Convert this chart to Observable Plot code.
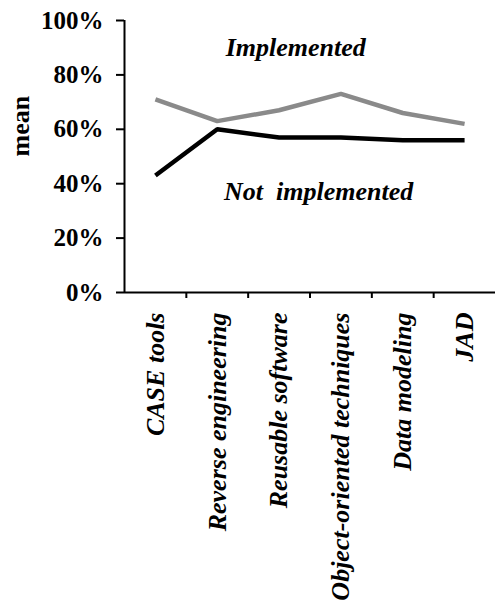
<!DOCTYPE html>
<html>
<head>
<meta charset="utf-8">
<script src="https://cdn.jsdelivr.net/npm/d3@7"></script>
<script src="https://cdn.jsdelivr.net/npm/@observablehq/plot@0.6"></script>
<style>
  html, body { margin: 0; padding: 0; background: #fff; }
  svg text { white-space: pre; font-family: "Liberation Serif", "Times New Roman", serif !important; font-weight: bold; }
</style>
</head>
<body>
<div id="chart"></div>
<script>
const categories = ["CASE tools", "Reverse engineering", "Reusable software", "Object-oriented techniques", "Data modeling", "JAD"];
const implemented = [0.71, 0.63, 0.67, 0.73, 0.66, 0.62];
const notImplemented = [0.43, 0.60, 0.57, 0.57, 0.56, 0.56];
const seriesNames = ["Implemented", "Not implemented"];
const yTicks = [0, 0.2, 0.4, 0.6, 0.8, 1];
const seriesLabels = [
  {text: "Implemented", x: 2.77, y: 0.90},
  {text: "Not  implemented", x: 3.14, y: 0.37}
];

const rows = [];
categories.forEach((c, i) => {
  rows.push({i, cat: c, series: seriesNames[0], value: implemented[i]});
});
categories.forEach((c, i) => {
  rows.push({i, cat: c, series: seriesNames[1], value: notImplemented[i]});
});
const centers = categories.map((c, i) => i + 0.5);
const boundaries = d3.range(1, categories.length);
const serif = "Liberation Serif";

const chart = Plot.plot({
  width: 495,
  height: 605,
  marginLeft: 124,
  marginRight: 0,
  marginTop: 20,
  marginBottom: 313,
  style: {fontFamily: serif, fontWeight: "bold", color: "black", background: "white"},
  x: {type: "linear", domain: [0, categories.length]},
  y: {domain: [0, 1]},
  color: {domain: seriesNames, range: ["#8a8a8a", "#000000"]},
  marks: [
    Plot.axisY({ticks: yTicks, tickFormat: d3.format(".0%"), tickSize: 8, tickPadding: 13, strokeWidth: 2, fontSize: 25, fontFamily: serif, fontWeight: "bold", label: null}),
    Plot.axisX({ticks: boundaries, tickFormat: () => "", tickSize: 6, strokeWidth: 2, label: null}),
    Plot.axisX({ticks: centers, tickFormat: d => categories[Math.floor(d)], tickSize: 0, tickPadding: 20, tickRotate: -90, fontSize: 26, fontFamily: serif, fontWeight: "bold", fontStyle: "italic", label: null}),
    Plot.ruleX([0], {strokeWidth: 2}),
    Plot.ruleY([0], {strokeWidth: 2}),
    Plot.line(rows, {x: d => d.i + 0.5, y: "value", z: "series", stroke: "series", strokeWidth: 4.5, strokeLinejoin: "miter", strokeLinecap: "butt"}),
    Plot.text(seriesLabels, {x: "x", y: "y", text: "text", fontSize: 26, fontFamily: serif, fontWeight: "bold", fontStyle: "italic", fill: "black"}),
    Plot.text(["mean"], {frameAnchor: "left", dx: -104, rotate: -90, fontSize: 26, fontFamily: serif, fontWeight: "bold", fill: "black"})
  ]
});
document.getElementById("chart").appendChild(chart);
</script>
</body>
</html>
